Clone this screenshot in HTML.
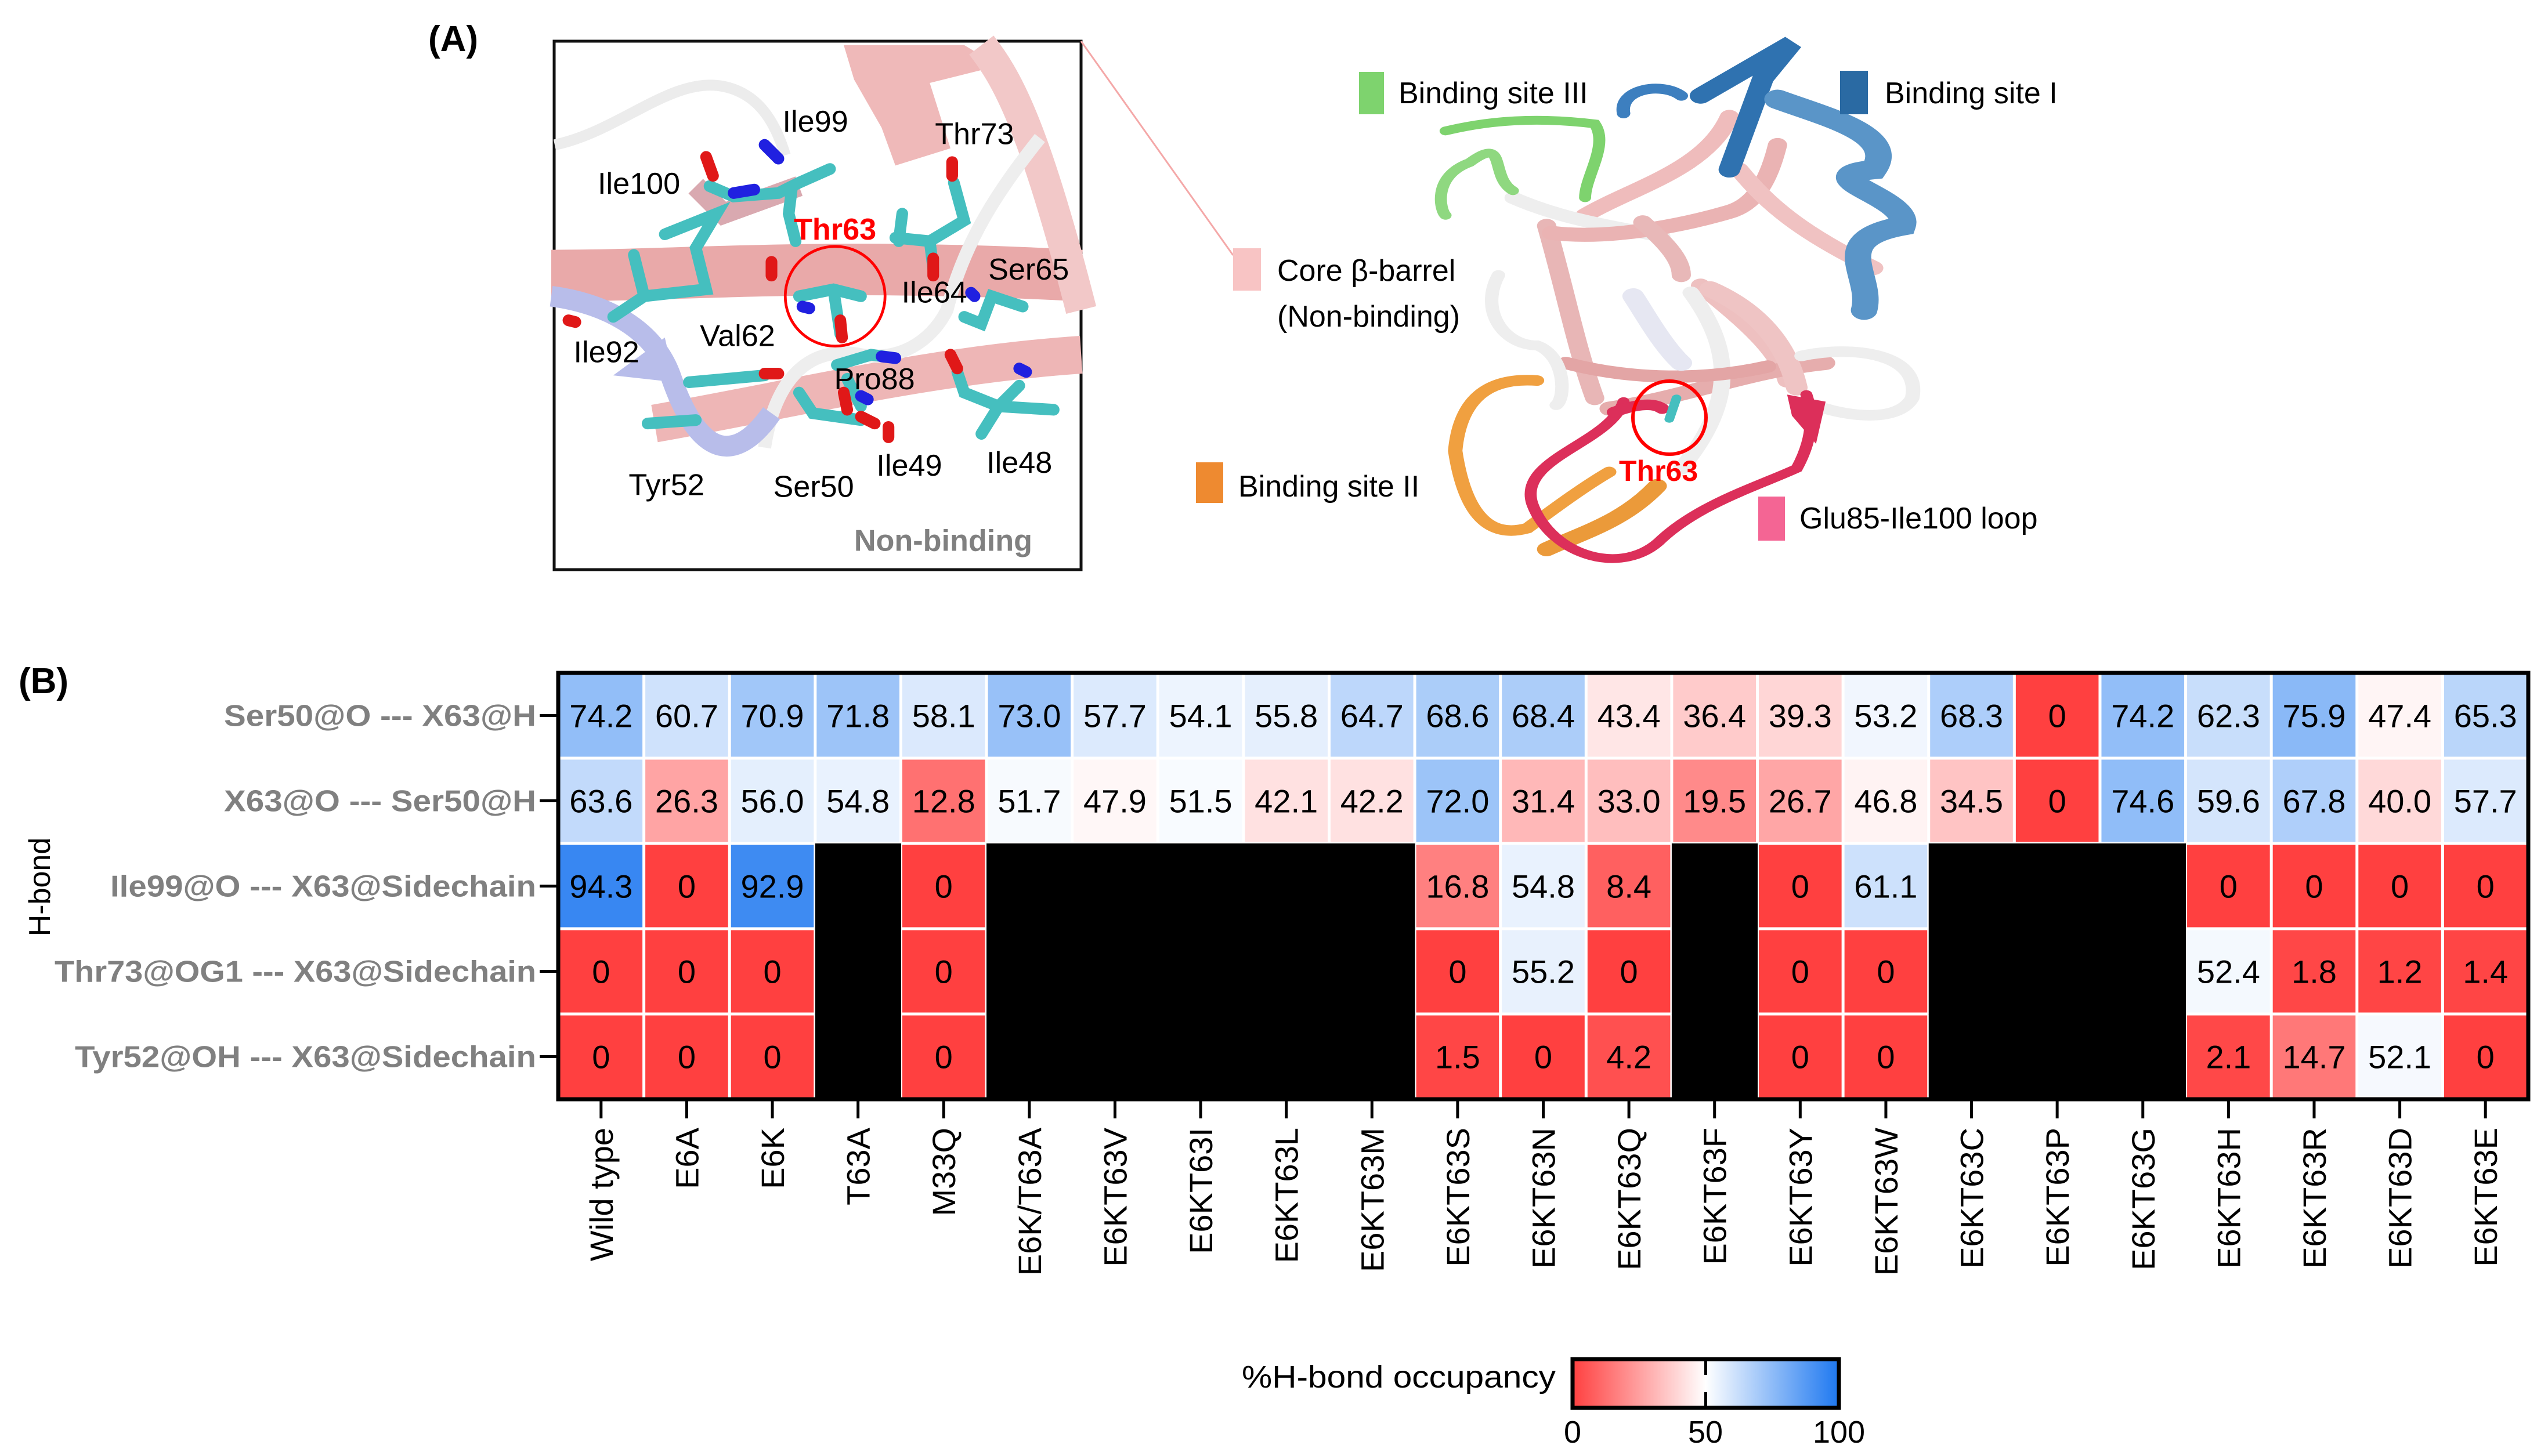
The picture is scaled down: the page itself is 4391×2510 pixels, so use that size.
<!DOCTYPE html>
<html><head><meta charset="utf-8"><style>
html,body{margin:0;padding:0;background:#fff;}
svg{display:block;}
text{font-family:"Liberation Sans",sans-serif;}
</style></head><body>
<svg id="fig" width="4391" height="2510" viewBox="0 0 4391 2510" xmlns="http://www.w3.org/2000/svg">
<defs>
<linearGradient id="cbar" x1="0" x2="1" y1="0" y2="0">
<stop offset="0" stop-color="#ff4040"/><stop offset="0.5" stop-color="#ffffff"/><stop offset="1" stop-color="#1e78f0"/>
</linearGradient>
</defs>
<text x="738" y="88" font-size="62" font-weight="bold">(A)</text>

<g>
<rect x="955" y="71" width="908" height="911" fill="#fff" stroke="#111" stroke-width="5"/>
<g transform="translate(950,60) scale(0.593)">
<path d="M10,320 C200,280 350,120 500,150 C600,170 650,250 680,350" stroke="#ececec" stroke-width="32" fill="none"/>
<path d="M0,700 C400,700 800,660 1540,700" stroke="#e9a9a9" stroke-width="150" fill="none"/>
<path d="M300,1130 C700,1060 1100,960 1540,930" stroke="#eeb6b6" stroke-width="110" fill="none"/>
<polygon points="850,30 1200,30 1300,90 1100,140 1160,330 1000,380 960,270 880,130" fill="#efb9b9"/>
<path d="M1250,30 C1320,120 1400,250 1540,800" stroke="#f2c8c8" stroke-width="90" fill="none"/>
<path d="M1420,300 C1300,450 1200,600 1150,800 C1100,900 1000,950 900,930 C750,900 650,1000 620,1200" stroke="#eeeeee" stroke-width="38" fill="none"/>
<path d="M0,760 C150,780 300,850 350,1000 C420,1200 520,1270 640,1100" stroke="#b8bdea" stroke-width="60" fill="none"/>
<polygon points="180,990 330,880 360,1010" fill="#b8bdea"/>
<path d="M420,440 L500,520 L720,440" stroke="#d9a9b0" stroke-width="60" fill="none"/>
<g stroke="#45bfbf" stroke-width="34" stroke-linecap="round" fill="none">
<path d="M330,580 L480,520 L420,620 L450,740 L270,760 L240,640 M270,760 L180,820"/>
<path d="M460,440 L530,470 L660,460 L720,430 L810,390 M700,440 L690,520 L710,600"/>
<path d="M720,760 L820,740 L900,760 M820,740 L840,870"/>
<path d="M1000,590 L1100,600 L1200,540 L1170,430 M1100,600 L1110,680 M1020,520 L1010,600"/>
<path d="M1200,820 L1250,840 L1280,760 L1370,790"/>
<path d="M830,960 L930,930 L1000,940 M860,1000 L900,1080 M720,1040 L760,1100 L900,1120"/>
<path d="M1180,980 L1200,1040 L1300,1080 L1360,1020 M1300,1080 L1250,1160 M1300,1080 L1460,1090"/>
<path d="M400,1010 L620,990 M280,1130 L420,1120"/>
</g>
<g stroke="#e01818" stroke-width="34" stroke-linecap="round" fill="none">
<path d="M450,355 L470,410 M1165,370 L1165,410 M1110,650 L1110,700 M840,830 L845,880 M640,660 L640,700 M1160,930 L1180,970 M850,1040 L860,1090 M900,1110 L940,1130 M980,1140 L980,1170 M620,985 L660,985 M50,830 L70,835"/>
</g>
<g stroke="#2020e0" stroke-width="34" stroke-linecap="round" fill="none">
<path d="M620,320 L660,360 M530,460 L590,450 M960,935 L1000,940 M1360,970 L1380,980 M730,790 L750,795 M900,1050 L920,1060 M1220,750 L1230,760"/>
</g>
<ellipse cx="825" cy="760" rx="145" ry="145" fill="none" stroke="#ff0000" stroke-width="8"/>
<g font-size="88" fill="#000">
<text x="672" y="282">Ile99</text>
<text x="1115" y="318">Thr73</text>
<text x="135" y="462">Ile100</text>
<text x="1270" y="712">Ser65</text>
<text x="1018" y="778">Ile64</text>
<text x="432" y="905">Val62</text>
<text x="65" y="952">Ile92</text>
<text x="822" y="1030">Pro88</text>
<text x="225" y="1338">Tyr52</text>
<text x="645" y="1343">Ser50</text>
<text x="945" y="1282">Ile49</text>
<text x="1265" y="1273">Ile48</text>
</g>
<text x="705" y="595" font-size="88" font-weight="bold" fill="#ff0000">Thr63</text>
<text x="880" y="1500" font-size="88" font-weight="bold" fill="#808080">Non-binding</text>
</g>
</g>
<line x1="1863" y1="71" x2="2125" y2="440" stroke="#f4a8a8" stroke-width="3"/>

<g transform="translate(2400,50) scale(0.829,0.606)" fill="none" stroke-linecap="round">
<path d="M320,560 C360,750 380,900 420,1050" stroke="#e8b6b6" stroke-width="40"/>
<path d="M400,530 C500,450 650,400 700,250" stroke="#efbcbc" stroke-width="40"/>
<path d="M640,730 C700,800 800,900 820,1000" stroke="#eec0c0" stroke-width="40"/>
<path d="M450,1080 C600,1050 750,970 900,950" stroke="#e6adad" stroke-width="40"/>
<path d="M250,480 C350,540 450,560 560,590" stroke="#eeeeee" stroke-width="35"/>
<path d="M330,580 C450,600 600,560 700,520 C750,500 780,440 800,330" stroke="#eab3b3" stroke-width="40"/>
<path d="M520,550 C560,600 600,650 600,700" stroke="#e8b8b8" stroke-width="40"/>
<path d="M720,400 C780,500 850,580 1000,680" stroke="#f0c2c2" stroke-width="40"/>
<path d="M620,750 C700,900 720,1050 600,1250" stroke="#eeeeee" stroke-width="35"/>
<path d="M660,740 C760,800 820,900 840,1020" stroke="#efc4c4" stroke-width="45"/>
<path d="M360,950 C500,1000 650,1000 780,960" stroke="#e3a5a5" stroke-width="35"/>
<path d="M220,700 C180,800 230,900 300,900 C360,930 360,1050 340,1070" stroke="#eeeeee" stroke-width="28"/>
<path d="M500,760 C520,800 560,900 600,950" stroke="#e6e7f2" stroke-width="45"/>
<path d="M850,930 C950,900 1100,920 1080,1050 C1050,1120 950,1100 900,1080" stroke="#eeeeee" stroke-width="30"/>
<path d="M480,240 C470,170 560,150 600,190" stroke="#3d7fbf" stroke-width="28"/>
<path d="M640,190 L830,40 L770,140 L700,400" stroke="#2f72b0" stroke-width="45"/>
<path d="M800,200 C900,250 1050,300 1000,400 C850,420 1080,480 1060,560 C900,600 1000,700 980,800" stroke="#5a95c8" stroke-width="55"/>
<path d="M110,290 C200,260 300,250 420,270 C450,330 400,420 400,480" stroke="#7ed36e" stroke-width="25"/>
<path d="M250,460 C200,420 240,300 160,380 C80,420 100,520 110,530" stroke="#8fd880" stroke-width="25"/>
<path d="M300,1000 C200,990 140,1050 130,1200 C150,1380 200,1450 280,1420 C350,1350 400,1300 450,1260" stroke="#f0a040" stroke-width="30"/>
<path d="M320,1480 C400,1430 480,1400 550,1300" stroke="#eb9a3a" stroke-width="40"/>
<path d="M480,1060 C450,1180 260,1220 290,1350 C330,1500 480,1560 560,1450 C640,1350 760,1300 840,1250 C880,1150 870,1080 860,1040" stroke="#dc2f5a" stroke-width="25"/>
<path d="M460,1090 C500,1070 540,1060 560,1080" stroke="#dc2f5a" stroke-width="30"/>
<polygon points="820,1040 900,1060 880,1180 830,1100" fill="#dc2f5a" stroke="none"/>
<path d="M575,1110 L590,1050" stroke="#45bfbf" stroke-width="20"/>
</g>
<circle cx="2877" cy="720" r="63" fill="none" stroke="#ff0000" stroke-width="6"/>
<text x="2790" y="829" font-size="50" font-weight="bold" fill="#ff0000">Thr63</text>

<g font-size="52" fill="#000">
<rect x="2342" y="124" width="43" height="73" fill="#7ed36e"/>
<text x="2410" y="178">Binding site III</text>
<rect x="3171" y="122" width="48" height="75" fill="#2a6aa3"/>
<text x="3248" y="178">Binding site I</text>
<rect x="2125" y="428" width="48" height="73" fill="#f8c4c4"/>
<text x="2201" y="484">Core β-barrel</text>
<text x="2201" y="563">(Non-binding)</text>
<rect x="2061" y="797" width="47" height="70" fill="#ee8a30"/>
<text x="2134" y="856">Binding site II</text>
<rect x="3030" y="856" width="46" height="76" fill="#f46594"/>
<text x="3101" y="911">Glu85-Ile100 loop</text>
</g>

<text x="32" y="1195" font-size="62" font-weight="bold">(B)</text>
<text transform="translate(86,1529) rotate(-90)" text-anchor="middle" font-size="52">H-bond</text>
<g id="heat"></g>

<g>
<text x="2140" y="2392" font-size="54" textLength="541" lengthAdjust="spacingAndGlyphs">%H-bond occupancy</text>
<rect x="2710" y="2343" width="459" height="84" fill="url(#cbar)" stroke="#000" stroke-width="7"/>
<line x1="2939.5" y1="2343" x2="2939.5" y2="2370" stroke="#000" stroke-width="5"/>
<line x1="2939.5" y1="2400" x2="2939.5" y2="2427" stroke="#000" stroke-width="5"/>
<text x="2710" y="2487" font-size="54" text-anchor="middle">0</text>
<text x="2939" y="2487" font-size="54" text-anchor="middle">50</text>
<text x="3169" y="2487" font-size="54" text-anchor="middle">100</text>
</g>
</svg>
<script>
const categories = ["Wild type","E6A","E6K","T63A","M33Q","E6K/T63A","E6KT63V","E6KT63I","E6KT63L","E6KT63M","E6KT63S","E6KT63N","E6KT63Q","E6KT63F","E6KT63Y","E6KT63W","E6KT63C","E6KT63P","E6KT63G","E6KT63H","E6KT63R","E6KT63D","E6KT63E"];
const rowLabels = ["Ser50@O --- X63@H","X63@O --- Ser50@H","Ile99@O --- X63@Sidechain","Thr73@OG1 --- X63@Sidechain","Tyr52@OH --- X63@Sidechain"];
const rowSer50O = [74.2,60.7,70.9,71.8,58.1,73.0,57.7,54.1,55.8,64.7,68.6,68.4,43.4,36.4,39.3,53.2,68.3,0,74.2,62.3,75.9,47.4,65.3];
const rowX63O = [63.6,26.3,56.0,54.8,12.8,51.7,47.9,51.5,42.1,42.2,72.0,31.4,33.0,19.5,26.7,46.8,34.5,0,74.6,59.6,67.8,40.0,57.7];
const rowIle99 = [94.3,0,92.9,null,0,null,null,null,null,null,16.8,54.8,8.4,null,0,61.1,null,null,null,0,0,0,0];
const rowThr73 = [0,0,0,null,0,null,null,null,null,null,0,55.2,0,null,0,0,null,null,null,52.4,1.8,1.2,1.4];
const rowTyr52 = [0,0,0,null,0,null,null,null,null,null,1.5,0,4.2,null,0,0,null,null,null,2.1,14.7,52.1,0];
const labelWidths = [538,538,734,830,795];

const NS = "http://www.w3.org/2000/svg";
const g = document.getElementById('heat');
const X0 = 962, Y0 = 1160, X1 = 4357, Y1 = 1895;
const rows = [rowSer50O,rowX63O,rowIle99,rowThr73,rowTyr52];
const cw = (X1-X0)/categories.length, ch = (Y1-Y0)/rows.length;
function xPos(i){return X0 + i*cw;}
function yPos(j){return Y0 + j*ch;}
function color(v){
  let r,gg,b;
  if(v<=50){const t=v/50;r=255;gg=64+(255-64)*t;b=64+(255-64)*t;}
  else{const t=(v-50)/50;r=255+(30-255)*t;gg=255+(120-255)*t;b=255+(240-255)*t;}
  return `rgb(${Math.round(r)},${Math.round(gg)},${Math.round(b)})`;
}
function mk(tag, attrs){const e=document.createElementNS(NS,tag);for(const k in attrs)e.setAttribute(k,attrs[k]);return e;}
const bg = mk('rect',{x:X0,y:Y0,width:X1-X0,height:Y1-Y0,fill:'#fff'});
g.appendChild(bg);
rows.forEach((row,j)=>{
  row.forEach((v,i)=>{
    const isNull = v===null;
    const r = mk('rect',{x:xPos(i)+(isNull?0:2.5),y:yPos(j)+(isNull?0:2.5),width:cw-(isNull?-0.5:5),height:ch-(isNull?-0.5:5),fill:isNull?'#000':color(v)});
    
    
    g.appendChild(r);
    if(!isNull){
      const t = mk('text',{x:xPos(i)+cw/2,y:yPos(j)+ch/2+20,'text-anchor':'middle','font-size':56,fill:'#000'});
      t.textContent = (v===0)?'0':v.toFixed(1);
      
      
      g.appendChild(t);
    }
  });
  const lab = mk('text',{x:924,y:yPos(j)+ch/2+18,'text-anchor':'end','font-size':52,'font-weight':'bold',fill:'#808080',textLength:labelWidths[j],lengthAdjust:'spacingAndGlyphs'});
  lab.textContent = rowLabels[j];
  
  
  g.appendChild(lab);
  const tk = mk('line',{x1:930,x2:962,y1:yPos(j)+ch/2,y2:yPos(j)+ch/2,stroke:'#000','stroke-width':5});
  
  
  g.appendChild(tk);
});
categories.forEach((c,i)=>{
  const cx = xPos(i)+cw/2;
  const tk = mk('line',{x1:cx,x2:cx,y1:1895,y2:1928,stroke:'#000','stroke-width':5});
  
  
  g.appendChild(tk);
  const t = mk('text',{transform:`translate(${cx+20},1944) rotate(-90)`,'text-anchor':'end','font-size':56,fill:'#000'});
  t.textContent = c;
  
  
  g.appendChild(t);
});
const border = mk('rect',{x:X0,y:Y0,width:X1-X0,height:Y1-Y0,fill:'none',stroke:'#000','stroke-width':7});


g.appendChild(border);
</script>
</body></html>
